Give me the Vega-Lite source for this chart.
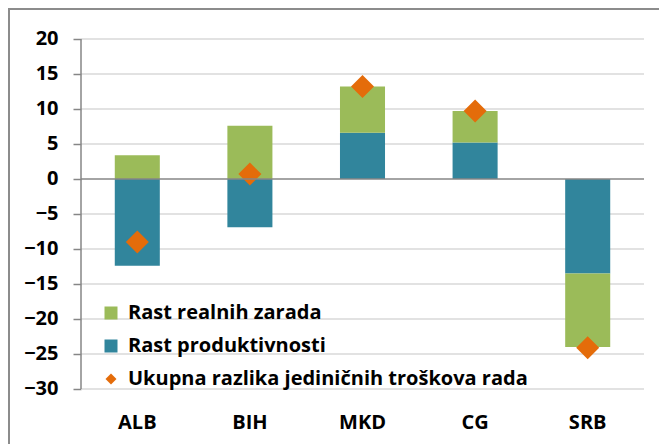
{
  "$schema": "https://vega.github.io/schema/vega-lite/v6.json",
  "width": 653,
  "height": 439,
  "autosize": {"type": "none"},
  "padding": {"left": 9, "top": 9, "right": -3, "bottom": -4},
  "background": "white",
  "config": {
    "view": {"stroke": "#8c8c8c", "strokeWidth": 2},
    "font": "Open Sans"
  },
  "datasets": {
    "bars": [
      {"country": "ALB", "series": "Rast produktivnosti", "value": -12.4},
      {"country": "ALB", "series": "Rast realnih zarada", "value": 3.4},
      {"country": "BIH", "series": "Rast produktivnosti", "value": -6.9},
      {"country": "BIH", "series": "Rast realnih zarada", "value": 7.6},
      {"country": "MKD", "series": "Rast produktivnosti", "value": 6.6},
      {"country": "MKD", "series": "Rast realnih zarada", "value": 6.6},
      {"country": "CG", "series": "Rast produktivnosti", "value": 5.2},
      {"country": "CG", "series": "Rast realnih zarada", "value": 4.5},
      {"country": "SRB", "series": "Rast produktivnosti", "value": -13.5},
      {"country": "SRB", "series": "Rast realnih zarada", "value": -10.5}
    ],
    "totals": [
      {"country": "ALB", "series": "Ukupna razlika jediničnih troškova rada", "value": -9.0},
      {"country": "BIH", "series": "Ukupna razlika jediničnih troškova rada", "value": 0.7},
      {"country": "MKD", "series": "Ukupna razlika jediničnih troškova rada", "value": 13.2},
      {"country": "CG", "series": "Ukupna razlika jediničnih troškova rada", "value": 9.7},
      {"country": "SRB", "series": "Ukupna razlika jediničnih troškova rada", "value": -24.1}
    ],
    "grid": [
      {"g": -30}, {"g": -25}, {"g": -20}, {"g": -15}, {"g": -10}, {"g": -5},
      {"g": 5}, {"g": 10}, {"g": 15}, {"g": 20}
    ]
  },
  "layer": [
    {
      "data": {"name": "grid"},
      "mark": {"type": "rule", "color": "#d9d9d9", "strokeWidth": 1.5},
      "encoding": {
        "y": {
          "field": "g", "type": "quantitative",
          "scale": {"domain": [-38.4286, 24.2857], "nice": false, "zero": false},
          "axis": {"title": null, "values": [-30, -25, -20, -15, -10, -5, 0, 5, 10, 15, 20], "grid": false, "domain": false, "offset": -72, "tickSize": 8, "tickColor": "#868686", "tickWidth": 1.5, "labelFontSize": 20, "labelFontWeight": "bold", "labelColor": "black", "labelPadding": 15, "labelFont": "Open Sans"}
        },
        "x": {"datum": 0, "type": "quantitative", "scale": {"domain": [0, 1], "range": [72, 635]}, "axis": null},
        "x2": {"datum": 1}
      }
    },
    {
      "layer": [
        {
          "data": {"name": "bars"},
          "mark": {"type": "bar"},
          "encoding": {
            "x": {
              "field": "country", "type": "nominal",
              "sort": ["ALB", "BIH", "MKD", "CG", "SRB"],
              "scale": {"range": [72, 635], "paddingInner": 0.6, "paddingOuter": 0.3},
              "axis": {"title": null, "orient": "bottom", "offset": -59, "domain": false, "ticks": false, "labelAngle": 0, "labelFontSize": 20, "labelFontWeight": "bold", "labelColor": "black", "labelPadding": 23, "labelFont": "Open Sans"}
            },
            "y": {"field": "value", "type": "quantitative", "stack": "zero"},
            "order": {"field": "series", "sort": "ascending"},
            "color": {
              "field": "series", "type": "nominal",
              "scale": {
                "domain": ["Rast realnih zarada", "Rast produktivnosti", "Ukupna razlika jediničnih troškova rada"],
                "range": ["#9bbb59", "#31859c", "#e46c0a"]
              },
              "legend": {
                "title": null, "orient": "none", "legendX": 92, "legendY": 294,
                "symbolType": "square", "symbolSize": 169, "symbolStrokeWidth": 0,
                "labelFontSize": 20, "labelFontWeight": "bold", "labelColor": "black", "labelFont": "Open Sans",
                "rowPadding": 13, "labelOffset": 7, "labelLimit": 500,
                "encode": {
                  "symbols": {
                    "update": {
                      "shape": {"signal": "datum.label === 'Ukupna razlika jediničnih troškova rada' ? 'diamond' : 'square'"},
                      "size": {"signal": "datum.label === 'Ukupna razlika jediničnih troškova rada' ? 120 : 169"}
                    }
                  }
                }
              }
            }
          }
        },
        {
          "data": {"name": "totals"},
          "mark": {"type": "point", "shape": "diamond", "filled": true, "size": 529, "opacity": 1},
          "encoding": {
            "x": {"field": "country", "type": "nominal", "sort": ["ALB", "BIH", "MKD", "CG", "SRB"]},
            "y": {"field": "value", "type": "quantitative"},
            "color": {"field": "series", "type": "nominal"}
          }
        }
      ]
    },
    {
      "data": {"values": [{"z": 0}]},
      "mark": {"type": "rule", "color": "#868686", "strokeWidth": 1.5},
      "encoding": {
        "y": {"field": "z", "type": "quantitative"},
        "x": {"datum": 0, "type": "quantitative", "scale": {"domain": [0, 1], "range": [72, 635]}, "axis": null},
        "x2": {"datum": 1}
      }
    },
    {
      "data": {"values": [{"a": -30, "b": 20}]},
      "mark": {"type": "rule", "color": "#868686", "strokeWidth": 1.5},
      "encoding": {
        "y": {"field": "a", "type": "quantitative"},
        "y2": {"field": "b"},
        "x": {"datum": 0, "type": "quantitative", "scale": {"domain": [0, 1], "range": [72, 635]}, "axis": null}
      }
    }
  ],
  "resolve": {"scale": {"x": "independent"}, "axis": {"x": "independent"}}
}
